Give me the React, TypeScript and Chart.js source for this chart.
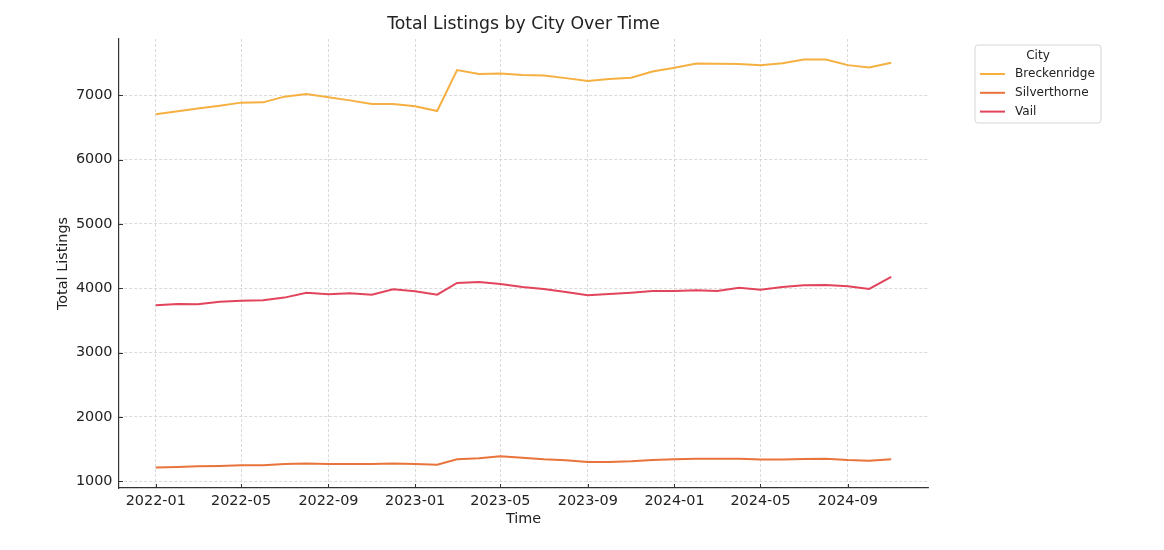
import React, { useEffect, useRef } from "react";
import { Chart, registerables } from "chart.js";
Chart.register(...registerables);

const FONT = "'DejaVu Sans', 'Liberation Sans', sans-serif";

const months = [
  "2022-01", "2022-02", "2022-03", "2022-04", "2022-05", "2022-06", "2022-07", "2022-08", "2022-09", "2022-10", "2022-11", "2022-12",
  "2023-01", "2023-02", "2023-03", "2023-04", "2023-05", "2023-06", "2023-07", "2023-08", "2023-09", "2023-10", "2023-11", "2023-12",
  "2024-01", "2024-02", "2024-03", "2024-04", "2024-05", "2024-06", "2024-07", "2024-08", "2024-09", "2024-10", "2024-11",
];

const xTickMonths = ["2022-01", "2022-05", "2022-09", "2023-01", "2023-05", "2023-09", "2024-01", "2024-05", "2024-09"];
const yTickValues = [1000, 2000, 3000, 4000, 5000, 6000, 7000];

const breckenridge = [
  6705, 6752, 6794, 6840, 6887, 6891, 6980, 7020, 6969, 6922, 6865, 6865,
  6829, 6757, 7393, 7331, 7341, 7318, 7310, 7268, 7222, 7253, 7274, 7372,
  7429, 7497, 7491, 7486, 7470, 7501, 7559, 7559, 7470, 7434, 7507,
];
const silverthorne = [
  1212, 1222, 1232, 1238, 1248, 1248, 1269, 1274, 1269, 1269, 1269, 1274,
  1269, 1258, 1341, 1357, 1388, 1365, 1341, 1326, 1300, 1300, 1310, 1331,
  1341, 1351, 1351, 1351, 1336, 1336, 1346, 1351, 1331, 1320, 1341,
];
const vail = [
  3736, 3757, 3752, 3792, 3808, 3814, 3855, 3932, 3907, 3922, 3901, 3985,
  3954, 3901, 4083, 4098, 4067, 4020, 3990, 3943, 3892, 3912, 3932, 3958,
  3958, 3969, 3958, 4010, 3979, 4020, 4047, 4052, 4031, 3990, 4176,
];

const seriesNames = ["Breckenridge", "Silverthorne", "Vail"];
const seriesColors = ["#F5B041", "#E8743B", "#E2445C"];
const seriesValues = [breckenridge, silverthorne, vail];

const TITLE = "Total Listings by City Over Time";
const X_TITLE = "Time";
const Y_TITLE = "Total Listings";
const LEGEND_TITLE = "City";

const toDay = (s: string) => {
  const [y, m] = s.split("-").map(Number);
  return Date.UTC(y, m - 1, 1) / 86400000;
};
const fmtDay = (d: number) => {
  const dt = new Date(Math.round(d) * 86400000);
  return `${dt.getUTCFullYear()}-${String(dt.getUTCMonth() + 1).padStart(2, "0")}`;
};

const decorPlugin = {
  id: "decor",
  afterDraw(chart: any) {
    const { ctx, chartArea: a } = chart;
    ctx.save();

    // inward tick marks
    ctx.strokeStyle = "#333";
    ctx.lineWidth = 1;
    const xs = chart.scales.x, ys = chart.scales.y;
    xs.ticks.forEach((t: any) => {
      const px = Math.round(xs.getPixelForValue(t.value)) + 0.5;
      ctx.beginPath();
      ctx.moveTo(px, a.bottom);
      ctx.lineTo(px, a.bottom - 4);
      ctx.stroke();
    });
    ys.ticks.forEach((t: any) => {
      const py = Math.round(ys.getPixelForValue(t.value)) + 0.5;
      ctx.beginPath();
      ctx.moveTo(a.left, py);
      ctx.lineTo(a.left + 4, py);
      ctx.stroke();
    });

    ctx.fillStyle = "#222";
    ctx.textAlign = "center";
    ctx.textBaseline = "middle";
    ctx.font = `17.3px ${FONT}`;
    ctx.fillText(TITLE, (a.left + a.right) / 2, 25);
    ctx.font = `14.4px ${FONT}`;
    ctx.fillText(X_TITLE, (a.left + a.right) / 2, 519);
    ctx.save();
    ctx.translate(63, (a.top + a.bottom) / 2);
    ctx.rotate(-Math.PI / 2);
    ctx.fillText(Y_TITLE, 0, 0);
    ctx.restore();

    // legend
    const bx = 975, by = 45, bw = 126, bh = 78, r = 3;
    ctx.beginPath();
    ctx.moveTo(bx + r, by);
    ctx.lineTo(bx + bw - r, by);
    ctx.quadraticCurveTo(bx + bw, by, bx + bw, by + r);
    ctx.lineTo(bx + bw, by + bh - r);
    ctx.quadraticCurveTo(bx + bw, by + bh, bx + bw - r, by + bh);
    ctx.lineTo(bx + r, by + bh);
    ctx.quadraticCurveTo(bx, by + bh, bx, by + bh - r);
    ctx.lineTo(bx, by + r);
    ctx.quadraticCurveTo(bx, by, bx + r, by);
    ctx.closePath();
    ctx.fillStyle = "rgba(255,255,255,0.8)";
    ctx.fill();
    ctx.strokeStyle = "#d6d6d6";
    ctx.lineWidth = 1;
    ctx.stroke();

    ctx.font = `12.1px ${FONT}`;
    ctx.fillStyle = "#222";
    ctx.textAlign = "center";
    ctx.fillText(LEGEND_TITLE, 1038, 56);
    ctx.textAlign = "left";
    chart.data.datasets.forEach((ds: any, i: number) => {
      const y = 74 + i * 18.8;
      ctx.beginPath();
      ctx.moveTo(980, y);
      ctx.lineTo(1005, y);
      ctx.strokeStyle = ds.borderColor;
      ctx.lineWidth = 2;
      ctx.stroke();
      ctx.fillStyle = "#222";
      ctx.fillText(ds.label, 1015, y);
    });
    ctx.restore();
  },
};

export default function App() {
  const ref = useRef<HTMLCanvasElement | null>(null);
  useEffect(() => {
    if (!ref.current) return;
    Chart.defaults.font.family = FONT;
    const xs = months.map(toDay);
    const xMinD = Math.min(...xs), xMaxD = Math.max(...xs);
    const xPad = (xMaxD - xMinD) * 0.05;
    const all = seriesValues.flat();
    const yMinD = Math.min(...all), yMaxD = Math.max(...all);
    const yPad = (yMaxD - yMinD) * 0.05;

    const gridOpts = {
      color: "#d0d0d0",
      lineWidth: 0.8,
      drawTicks: false,
    };

    const chart = new Chart(ref.current, {
      type: "line",
      data: {
        datasets: seriesNames.map((name, i) => ({
          label: name,
          data: seriesValues[i].map((v, j) => ({ x: xs[j], y: v })),
          borderColor: seriesColors[i],
          backgroundColor: seriesColors[i],
          borderWidth: 2,
          pointRadius: 0,
          tension: 0,
          fill: false,
          order: seriesNames.length - i,
        })),
      },
      options: {
        animation: false,
        responsive: true,
        maintainAspectRatio: false,
        layout: { padding: { left: 0, right: 236, top: 39, bottom: 0 } },
        plugins: {
          legend: { display: false },
          title: { display: false },
          tooltip: { enabled: false },
        },
        scales: {
          x: {
            type: "linear",
            min: xMinD - xPad,
            max: xMaxD + xPad,
            afterBuildTicks: (s: any) => {
              s.ticks = xTickMonths.map((m) => ({ value: toDay(m) }));
            },
            afterFit: (s: any) => {
              s.height = 62;
            },
            ticks: {
              callback: (v: any) => fmtDay(Number(v)),
              color: "#222",
              font: { size: 14.4 },
              padding: 5,
              maxRotation: 0,
              autoSkip: false,
            },
            grid: gridOpts,
            border: { display: true, color: "#333", width: 1.2, dash: [3, 2] },
          },
          y: {
            type: "linear",
            min: yMinD - yPad,
            max: yMaxD + yPad,
            afterBuildTicks: (s: any) => {
              s.ticks = yTickValues.map((v) => ({ value: v }));
            },
            afterFit: (s: any) => {
              s.width = 119;
            },
            ticks: {
              callback: (v: any) => String(v),
              color: "#222",
              font: { size: 14.4 },
              padding: 6.5,
            },
            grid: gridOpts,
            border: { display: true, color: "#333", width: 1.2, dash: [3, 2] },
          },
        },
      },
      plugins: [decorPlugin],
    });
    return () => chart.destroy();
  }, []);

  return (
    <div style={{ position: "fixed", left: 0, top: 0, width: 1164, height: 550, background: "#fff" }}>
      <canvas ref={ref} />
    </div>
  );
}
